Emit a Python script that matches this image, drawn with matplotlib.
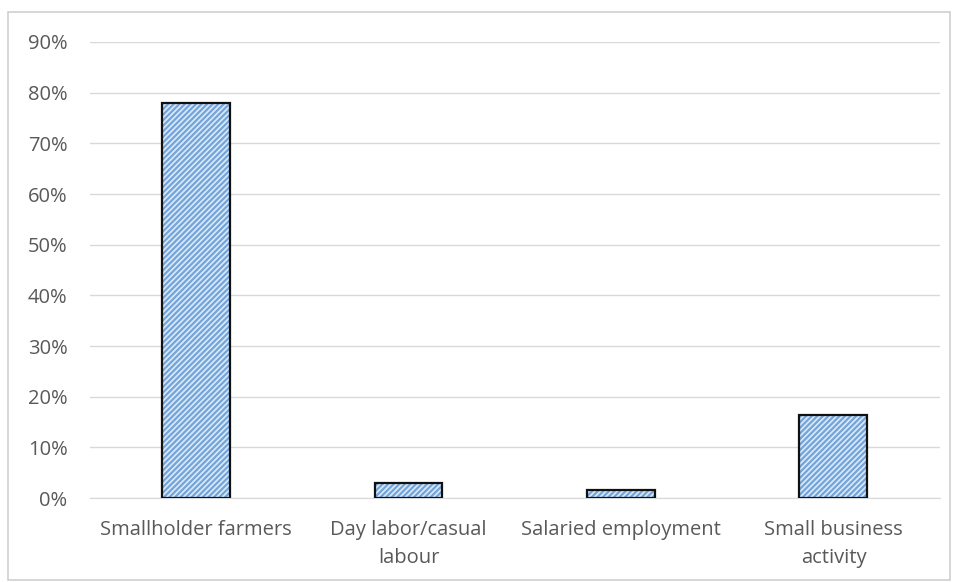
import matplotlib.pyplot as plt
from matplotlib.patches import Rectangle
import numpy as np

categories = ['Smallholder farmers', 'Day labor/casual\nlabour', 'Salaried employment', 'Small business\nactivity']
values = [0.78, 0.03, 0.016, 0.164]
yticks = [0, 0.1, 0.2, 0.3, 0.4, 0.5, 0.6, 0.7, 0.8, 0.9]

plt.rcParams['font.family'] = ['Open Sans', 'DejaVu Sans']
plt.rcParams['hatch.linewidth'] = 1.6

fig = plt.figure(figsize=(9.55, 5.82), dpi=100)
fig.patches.append(Rectangle((0.008, 0.004), 0.987, 0.975, transform=fig.transFigure,
                             fill=False, edgecolor='#d0d0d0', lw=1.2))
ax = fig.add_axes([0.094, 0.144, 0.89, 0.784])

x = np.arange(len(categories))
ax.bar(x, values, width=0.32, color='#dde9f7', edgecolor='#72a5dc', hatch='//////', lw=0, zorder=2)
ax.bar(x, values, width=0.32, fill=False, edgecolor='#111111', lw=1.6, zorder=3)

ax.set_xlim(-0.5, 3.5)
ax.set_ylim(0, 0.9)
ax.set_yticks(yticks)
ax.set_yticklabels(['%d%%' % round(v * 100) for v in yticks])
ax.set_xticks(x)
ax.set_xticklabels(categories, linespacing=1.5)
ax.grid(axis='y', color='#d9d9d9', lw=1, zorder=0)
for s in ['top', 'right', 'left']:
    ax.spines[s].set_visible(False)
ax.spines['bottom'].set_color('#d9d9d9')
ax.tick_params(length=0, labelsize=14.5, labelcolor='#595959')
ax.tick_params(axis='y', pad=16)
ax.tick_params(axis='x', pad=16)

fig.savefig('out.png')
